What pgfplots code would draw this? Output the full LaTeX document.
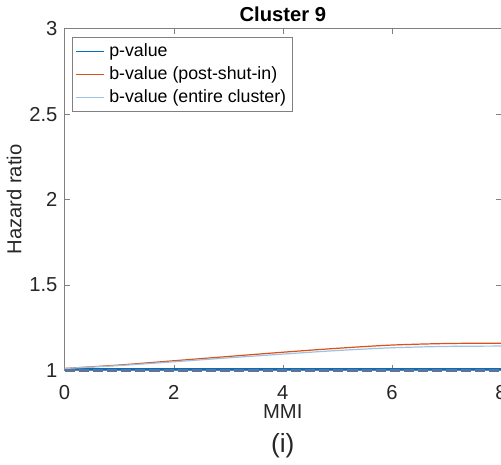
\documentclass[border=0pt]{standalone}
\usepackage{fontspec}
\setmainfont{Liberation Sans}
\usepackage{pgfplots}
\pgfplotsset{compat=1.18}

\definecolor{mblue}{rgb}{0.0,0.447,0.741}
\definecolor{morange}{rgb}{0.85,0.325,0.098}
\definecolor{mlight}{rgb}{0.62,0.76,0.90}
\definecolor{mdash}{rgb}{0.36,0.45,0.62}
\definecolor{axgray}{rgb}{0.50,0.50,0.50}

\begin{document}
\begin{tikzpicture}[trim axis right]
\begin{axis}[
    scale only axis,
    width=216pt,
    height=169pt,
    xmin=0, xmax=8,
    ymin=1, ymax=3,
    xtick={0,2,4,6,8},
    ytick={1,1.5,2,2.5,3},
    tick align=inside,
    major tick length=2.5pt,
    axis line style={axgray, line width=0.5pt},
    tick style={axgray},
    every tick label/.append style={font=\fontsize{10}{12}\selectfont, text=black!85},
    xticklabel style={yshift=-4pt},
    /pgf/number format/assume math mode=true,
    xlabel={MMI},
    ylabel={Hazard ratio},
    xlabel style={font=\fontsize{10}{12}\selectfont, text=black!85, yshift=4.5pt},
    ylabel style={font=\fontsize{10}{12}\selectfont, text=black!85, yshift=-3pt},
    title={\textbf{Cluster 9}},
    title style={font=\fontsize{10}{12}\selectfont, yshift=-6pt},
    legend style={at={(0.018,0.975)}, anchor=north west, draw=axgray,
        font=\fontsize{8.8}{10}\selectfont, inner sep=1pt, row sep=-0.5pt,
        cells={anchor=west}, /tikz/every even column/.append style={column sep=1pt}},
    legend image code/.code={\draw[#1, line width=0.8pt] (0cm,0cm) -- (0.5cm,0cm);},
    clip=false
]
\addplot[mblue, line width=0.6pt] coordinates {
    (0,1.007) (8,1.007)
};
\addlegendentry{p-value}
\addplot[morange, line width=0.6pt, smooth] coordinates {
    (0,1.010) (1,1.030) (2,1.055) (3,1.080) (4,1.105)
    (5,1.128) (6,1.147) (7,1.156) (8,1.158)
};
\addlegendentry{b-value (post-shut-in)}
\addplot[mlight, line width=0.6pt, smooth] coordinates {
    (0,1.010) (1,1.027) (2,1.049) (3,1.072) (4,1.094)
    (5,1.115) (6,1.131) (7,1.139) (8,1.141)
};
\addlegendentry{b-value (entire cluster)}
\addplot[mdash, line width=1.4pt, dash pattern=on 5pt off 2pt, forget plot] coordinates {
    (0,1.0) (8,1.0)
};
\node[font=\fontsize{13}{15}\selectfont, text=black!85] at (axis description cs:0.5,-0.222) {(i)};
\end{axis}
\end{tikzpicture}
\end{document}
